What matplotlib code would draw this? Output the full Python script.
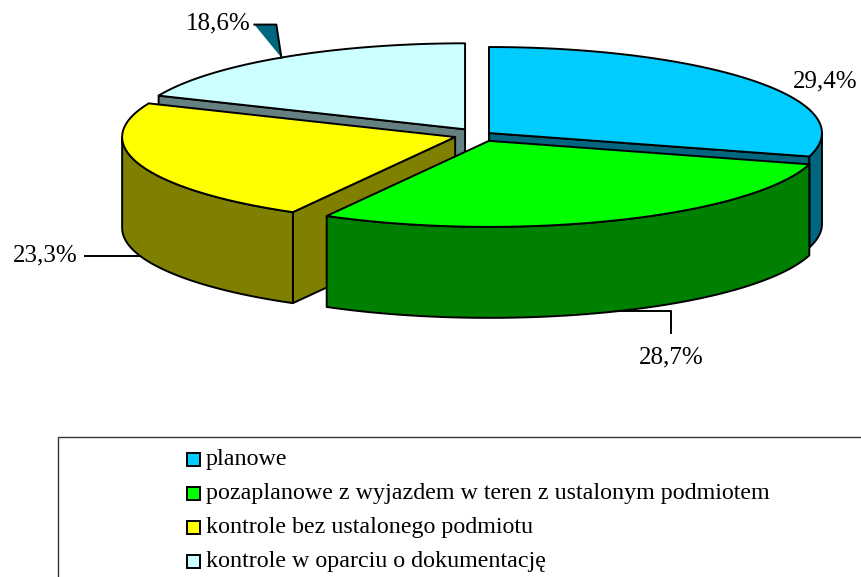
import matplotlib
matplotlib.use("Agg")
import matplotlib.pyplot as plt
import numpy as np
from matplotlib.patches import Polygon, Rectangle

# data
categories = [
    "planowe",
    "pozaplanowe z wyjazdem w teren z ustalonym podmiotem",
    "kontrole bez ustalonego podmiotu",
    "kontrole w oparciu o dokumentację",
]
shares = [29.4, 28.7, 23.3, 18.6]
top_colors = ["#00CCFF", "#00FF00", "#FFFF00", "#CCFFFF"]
side_colors = ["#006680", "#008000", "#808000", "#648080"]
explode = [0.036, 0.075, 0.077, 0.078]

# pie geometry (pixels)
cx, cy = 479.4, 134.9
rx, ry = 333, 86
depth = 91
lw = 1.4

plt.rcParams["font.family"] = ["Liberation Serif", "DejaVu Serif"]

fig = plt.figure(figsize=(8.61, 5.77), dpi=100)
ax = fig.add_axes([0, 0, 1, 1])
ax.set_xlim(0, 861)
ax.set_ylim(577, 0)
ax.axis("off")

vals = np.array(shares) / sum(shares)
cum = np.concatenate([[0], np.cumsum(vals)])
t1s = 90 - 360 * cum[:-1]
t0s = 90 - 360 * cum[1:]
mids = (t0s + t1s) / 2


def pt(ox, oy, th, dz=0):
    r = np.radians(th)
    return ox + rx * np.cos(r), oy - ry * np.sin(r) + dz


def arc(ox, oy, a, b, dz=0, n=120):
    th = np.linspace(a, b, n)
    r = np.radians(th)
    return np.column_stack([ox + rx * np.cos(r), oy - ry * np.sin(r) + dz])


order = np.argsort(-np.sin(np.radians(mids)))
geo = {}
for i in order:
    t0, t1, m = t0s[i], t1s[i], mids[i]
    mr = np.radians(m)
    ox = cx + explode[i] * rx * np.cos(mr)
    oy = cy - explode[i] * ry * np.sin(mr)
    geo[i] = (ox, oy)
    # radial walls facing the viewer
    for th, vis in ((t1, np.cos(np.radians(t1)) < -1e-6), (t0, np.cos(np.radians(t0)) > 1e-6)):
        if vis:
            p = pt(ox, oy, th)
            wall = [(ox, oy), p, (p[0], p[1] + depth), (ox, oy + depth)]
            ax.add_patch(Polygon(wall, closed=True, fc=side_colors[i], ec="black", lw=lw, joinstyle="round"))
    # outer wall (front half)
    a, b = max(t0, -180), min(t1, 0)
    if a < b:
        top = arc(ox, oy, a, b)
        bot = arc(ox, oy, b, a, depth)
        ax.add_patch(Polygon(np.vstack([top, bot]), closed=True, fc=side_colors[i], ec="black", lw=lw, joinstyle="round"))
    # top face
    face = np.vstack([[(ox, oy)], arc(ox, oy, t0, t1)])
    ax.add_patch(Polygon(face, closed=True, fc=top_colors[i], ec="black", lw=lw, joinstyle="round"))

labels = [f"{v:.1f}%".replace(".", ",") for v in shares]
fs = 18

# planowe: label beside the top rim
ox, oy = geo[0]
px, py = pt(ox, oy, mids[0])
ax.text(px + 38, py, labels[0], fontsize=fs, ha="left", va="center")

# pozaplanowe: leader from bottom rim
ox, oy = geo[1]
px, py = pt(ox, oy, mids[1], depth)
ax.plot([px, px + 55, px + 55], [py, py, py + 22], color="black", lw=lw)
ax.text(px + 55, py + 46, labels[1], fontsize=fs, ha="center", va="center")

# kontrole bez: leader from bottom rim to the left
ox, oy = geo[2]
px, py = pt(ox, oy, mids[2], depth)
ax.plot([px, px - 55], [py, py], color="black", lw=lw)
ax.text(px - 62, py, labels[2], fontsize=fs, ha="right", va="center")

# dokumentacja: wedge-shaped leader from top rim
ox, oy = geo[3]
px, py = pt(ox, oy, mids[3])
ax.add_patch(Polygon([(px, py), (px - 5, py - 33), (px - 27, py - 33)], closed=True,
                     fc=side_colors[0], ec="none"))
ax.plot([px - 27, px - 5, px], [py - 33, py - 33, py], color="black", lw=lw)
ax.text(px - 31, py - 34, labels[3], fontsize=fs, ha="right", va="center")

# legend
ax.add_patch(Rectangle((58, 437), 900, 200, fc="white", ec="#333333", lw=1.0, clip_on=True))
for k, (name, col) in enumerate(zip(categories, top_colors)):
    yc = 460 + 34 * k
    ax.add_patch(Rectangle((187, yc - 7), 13, 13, fc=col, ec="black", lw=1.4))
    ax.text(206, yc, name, fontsize=17.3, ha="left", va="center")

fig.savefig("out.png", dpi=100)
